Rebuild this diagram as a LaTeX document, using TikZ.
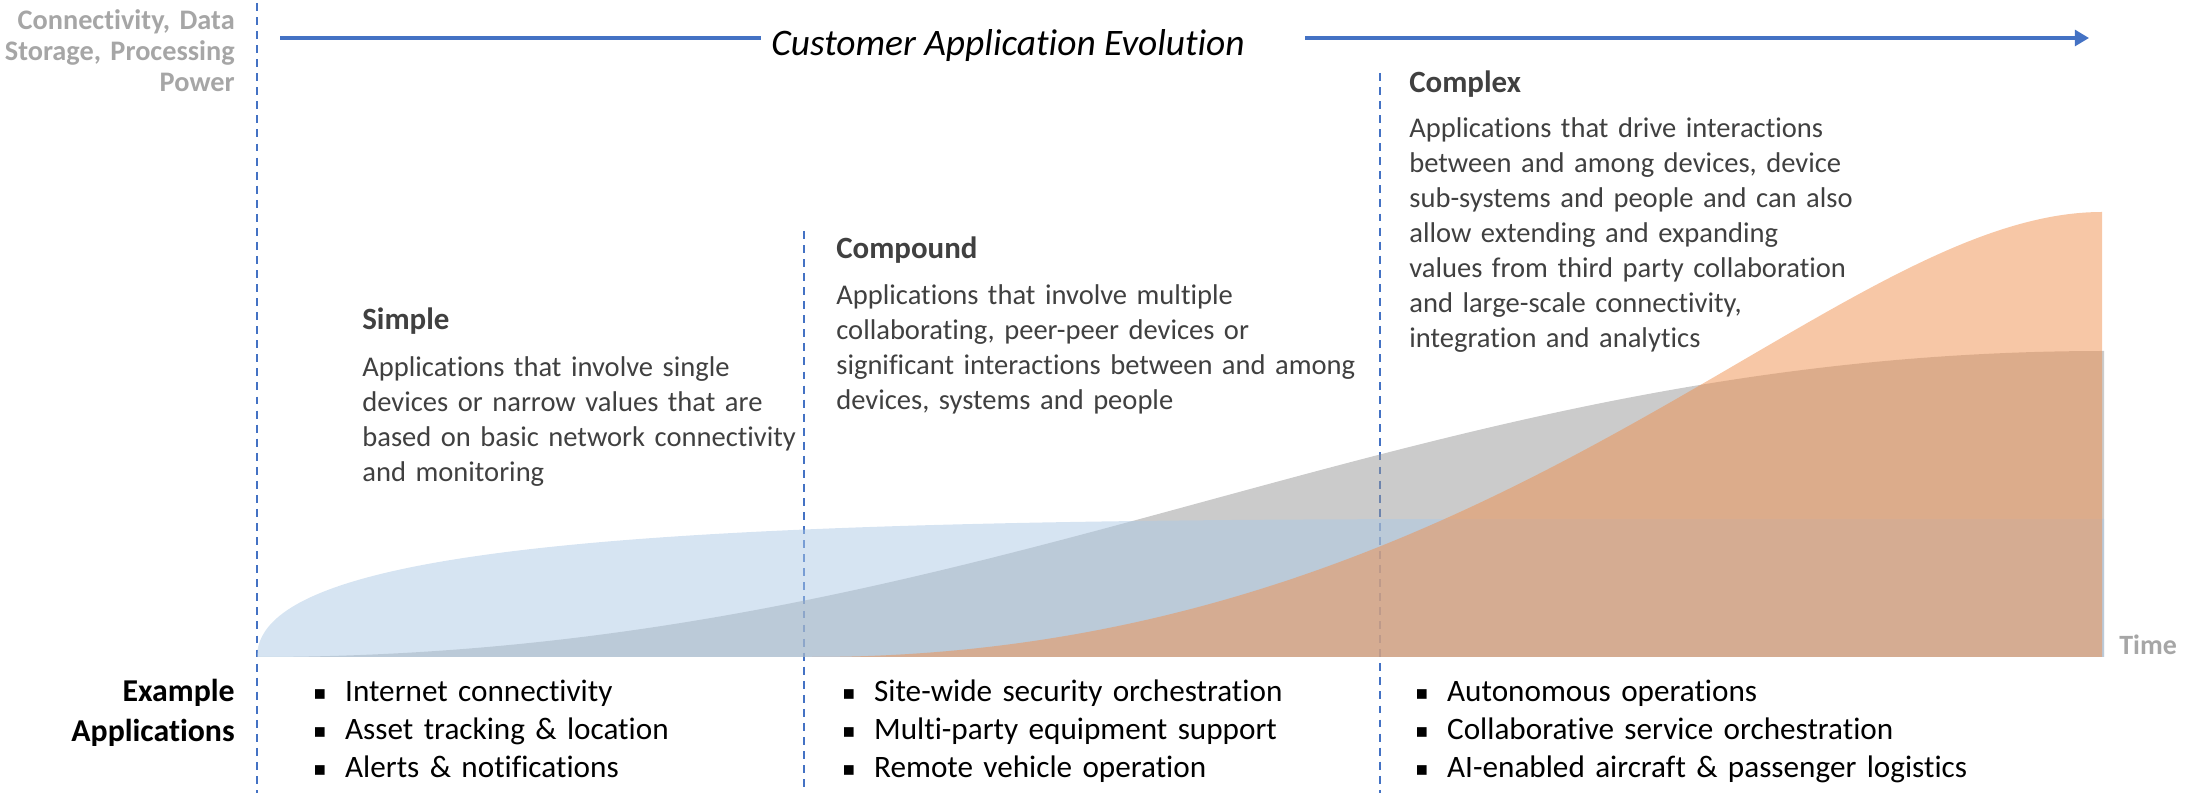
\documentclass[tikz,border=0pt]{standalone}
\usepackage{fontspec}
\setmainfont{Carlito}[Ligatures=NoCommon]
\newfontfamily\bulletfont{DejaVu Sans}
\usepackage{tikz}
\usetikzlibrary{arrows.meta, calc}
\definecolor{phaseblue}{HTML}{4472C4}
\definecolor{axisgray}{HTML}{A6A6A6}
\definecolor{bodygray}{HTML}{404040}
\definecolor{simplecol}{RGB}{173,201,229}
\definecolor{compoundcol}{RGB}{151,151,151}
\definecolor{complexcol}{RGB}{239,143,77}
\newcommand{\sqbullet}{\makebox[18.1pt][l]{\raisebox{1.2pt}{\bulletfont\fontsize{11}{11}\selectfont ▪}}}
\tikzset{
divider/.style={draw=phaseblue, line width=1pt, dash pattern=on 4.5pt off 3.5pt},
evoline/.style={draw=phaseblue, line width=1.8pt},
evoarrow/.style={evoline, -{Triangle[length=8pt, width=9pt]}},
growth/.style={fill opacity=0.5, draw=none},
axislabel/.style={%
    inner sep=0pt,
    text=axisgray,
    font=\bfseries\fontsize{16.1}{17.6}\selectfont
},
evotitle/.style={inner sep=0pt, anchor=base west, font=\itshape\fontsize{21.3}{25}\selectfont},
phasehead/.style={%
    inner sep=0pt, anchor=base west,
    text=bodygray,
    font=\bfseries\fontsize{17.6}{21}\selectfont
},
phasetext/.style={%
    inner sep=0pt, anchor=base west,
    text=bodygray, align=left, text width=340pt,
    font=\fontsize{16.25}{19.84}\selectfont
},
examples/.style={%
    inner sep=0pt, anchor=base west,
    align=left, text width=420pt,
    font=\fontsize{17.75}{21.5}\selectfont
},
}

\begin{document}
\begin{tikzpicture}[x=0.02cm, y=-0.02cm]
\useasboundingbox (0,0) rectangle (2192,793);

% phase dividers
\coordinate (d1top) at (257,3);
\coordinate (d1bot) at (257,793);
\coordinate (d2top) at (804,231);
\coordinate (d2bot) at (804,793);
\coordinate (d3top) at (1380,73);
\coordinate (d3bot) at (1380,793);
\draw[divider] (d1top) -- (d1bot);
\draw[divider] (d2top) -- (d2bot);
\draw[divider] (d3top) -- (d3bot);

% growth curves
\fill[growth, compoundcol] (257,657) .. controls (1000,657) and (1400,351) .. (2104,351) -- (2104,657) -- cycle;
\fill[growth, simplecol] (257,657) .. controls (257,540) and (700,519) .. (1500,519) -- (2104,519) -- (2104,657) -- cycle;
\fill[growth, complexcol] (812,657) .. controls (1500,657) and (1830,212) .. (2102,212) -- (2102,657) -- cycle;

% time axis
\node[evotitle] (evo) at (771,56) {Customer Application Evolution};
\coordinate (evostart) at (280,38);
\coordinate (evoend) at (2089,38);
\draw[evoline] (evostart) -- ($(evo.west |- evostart)+(-10,0)$);
\draw[evoarrow] ($(evo.east |- evostart)+(60,0)$) -- (evoend);

\node[axislabel, align=right, text width=150pt, anchor=base east] (yaxis) at (235,30)
    {Connectivity, Data\\Storage, Processing\\Power};
\node[axislabel, font=\bfseries\fontsize{15.9}{17}\selectfont, anchor=base west] (xaxis) at (2119,655) {Time};

% phases
\node[phasehead] (simple) at (362,330) {Simple};
\node[phasetext] (simpletext) at (362,377) {Applications that involve single\\devices or narrow values that are\\based on basic network connectivity\\and monitoring};
\node[phasehead] (compound) at (836,259) {Compound};
\node[phasetext] (compoundtext) at (836,305) {Applications that involve multiple\\collaborating, peer-peer devices or\\significant interactions between and among\\devices, systems and people};
\node[phasehead] (complex) at (1409,93) {Complex};
\node[phasetext] (complextext) at (1409,138) {Applications that drive interactions\\between and among devices, device\\sub-systems and people and can also\\allow extending and expanding\\values from third party collaboration\\and large-scale connectivity,\\integration and analytics};

% example applications
\node[inner sep=0pt, anchor=base east, align=right, text width=150pt,
    font=\bfseries\fontsize{18.1}{22.7}\selectfont] (exlabel) at (235,702) {Example\\Applications};
\node[examples] (simpleex) at (313,702) {\sqbullet Internet connectivity\\\sqbullet Asset tracking \& location\\\sqbullet Alerts \& notifications};
\node[examples] (compoundex) at (842,702) {\sqbullet Site-wide security orchestration\\\sqbullet Multi-party equipment support\\\sqbullet Remote vehicle operation};
\node[examples] (complexex) at (1415,702) {\sqbullet Autonomous operations\\\sqbullet Collaborative service orchestration\\\sqbullet AI-enabled aircraft \& passenger logistics};
\end{tikzpicture}
\end{document}
